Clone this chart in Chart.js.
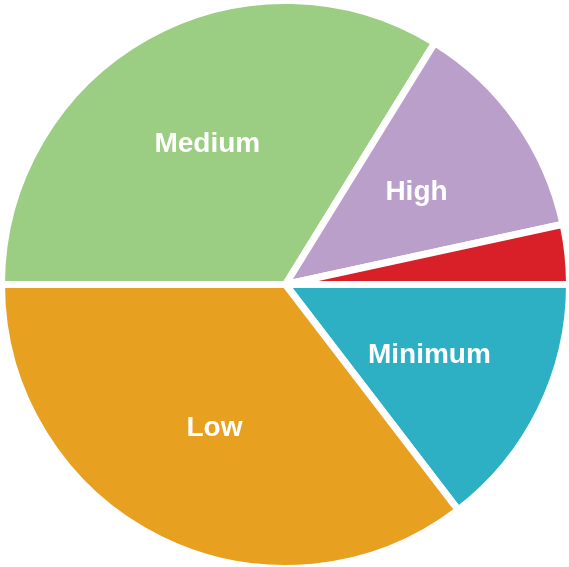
<!DOCTYPE html>
<html>
<head>
<meta charset="utf-8">
<script src="https://cdn.jsdelivr.net/npm/chart.js@4"></script>
<style>
	html, body { margin: 0; padding: 0; background: #fff; overflow: hidden; }
	#wrap { position: absolute; left: -2px; top: -3px; width: 575px; height: 575px; }
</style>
</head>
<body>
<div id="wrap"><canvas id="chart1"></canvas></div>
<script>
// data, clockwise from 3 o'clock
var labels = ['Minimum', 'Low', 'Medium', 'High', ''];
var values = [14.6, 35.4, 33.8, 12.8, 3.4];
var colors = ['#2DAFC4', '#E8A021', '#9BCD82', '#BB9FCB', '#D91F27'];

// white bold labels inside the slices
var sliceLabels = {
	id: 'sliceLabels',
	afterDatasetsDraw: function(chart) {
		var ctx = chart.ctx;
		var meta = chart.getDatasetMeta(0);
		ctx.save();
		ctx.fillStyle = '#fff';
		ctx.font = 'bold 28px "Liberation Sans", Arial, sans-serif';
		ctx.textAlign = 'center';
		ctx.textBaseline = 'middle';
		meta.data.forEach(function(arc, i) {
			if (!labels[i]) return;
			var p = arc.getProps(['x', 'y', 'startAngle', 'endAngle', 'outerRadius']);
			var mid = (p.startAngle + p.endAngle) / 2;
			var r = p.outerRadius * 0.565;
			ctx.fillText(labels[i], p.x + Math.cos(mid) * r, p.y + Math.sin(mid) * r);
		});
		ctx.restore();
	}
};

var ctx = document.getElementById('chart1').getContext('2d');
var chart1 = new Chart(ctx, {
	type: 'pie',
	data: {
		labels: labels,
		datasets: [{
			data: values,
			backgroundColor: colors,
			borderColor: '#fff',
			borderWidth: 7,
			hoverOffset: 0
		}]
	},
	options: {
		responsive: true,
		maintainAspectRatio: false,
		animation: false,
		rotation: 90,
		plugins: {
			legend: { display: false },
			tooltip: { enabled: false }
		}
	},
	plugins: [sliceLabels]
});
</script>
</body>
</html>
